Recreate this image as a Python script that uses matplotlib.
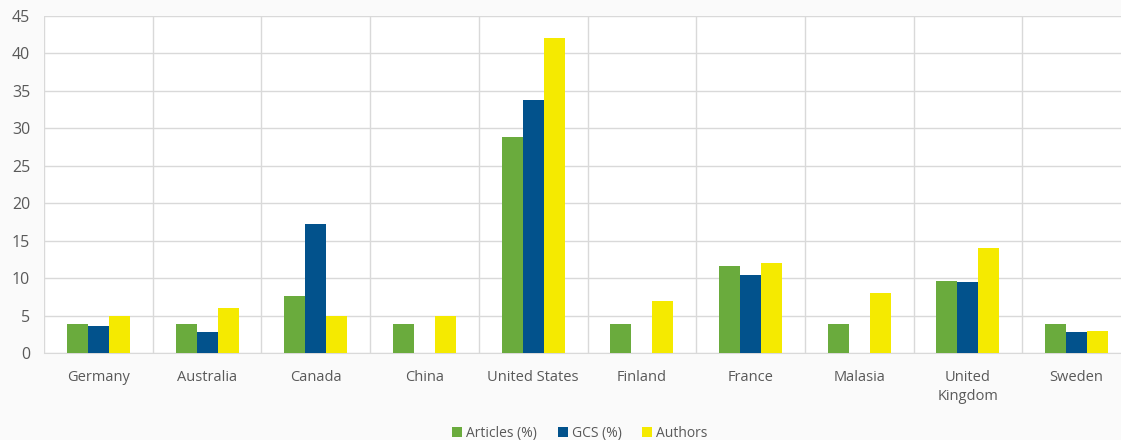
import matplotlib
matplotlib.use("Agg")
import matplotlib.pyplot as plt
import numpy as np

countries = ["Germany", "Australia", "Canada", "China", "United States",
             "Finland", "France", "Malasia", "United\nKingdom", "Sweden"]
articles = [3.9, 3.9, 7.7, 3.9, 28.8, 3.9, 11.6, 3.9, 9.7, 3.9]
gcs = [3.7, 2.8, 17.3, 0, 33.8, 0, 10.4, 0, 9.5, 2.8]
authors = [5, 6, 5, 5, 42, 7, 12.1, 8, 14, 3]
series_names = ["Articles (%)", "GCS (%)", "Authors"]
colors = ["#6aab3d", "#02528c", "#f5ea00"]
yticks = [0, 5, 10, 15, 20, 25, 30, 35, 40, 45]

plt.rcParams['font.family'] = ['Open Sans', 'DejaVu Sans']

fig = plt.figure(figsize=(11.21, 4.4), dpi=100, facecolor="#fafafa")
ax = fig.add_axes([44/1121, (440-353.3)/440, (1131-44)/1121, (353.3-16)/440])
ax.set_facecolor("white")

x = np.arange(len(countries))
w = 0.193
for i, (vals, name, c) in enumerate(zip([articles, gcs, authors], series_names, colors)):
    ax.bar(x + (i-1)*w, vals, width=w, color=c, label=name, zorder=3)

ax.set_xlim(-0.5, len(countries)-0.5)
ax.set_ylim(0, 45)
ax.set_yticks(yticks)
ax.set_xticks(x)
ax.set_xticklabels(countries, fontsize=10.5, color="#595959", linespacing=1.35)
ax.set_xticks(np.arange(-0.5, len(countries)), minor=True)
ax.tick_params(axis='y', labelsize=11.5, labelcolor="#595959", length=0, pad=10)
ax.tick_params(axis='x', which='both', length=0, pad=12)
ax.grid(axis='y', which='major', color="#d9d9d9", linewidth=1, zorder=0)
ax.grid(axis='x', which='minor', color="#d9d9d9", linewidth=1, zorder=0)
for s in ["top", "right", "left"]:
    ax.spines[s].set_visible(False)
ax.spines["bottom"].set_color("#d9d9d9")

leg = fig.legend(loc="center", bbox_to_anchor=(580/1121, 1 - 433/440), ncol=3,
                 frameon=False, fontsize=10, handlelength=0.7, handleheight=0.7,
                 handletextpad=0.3, columnspacing=1.5)
for t in leg.get_texts():
    t.set_color("#595959")

fig.savefig("out.png", dpi=100, facecolor=fig.get_facecolor())
